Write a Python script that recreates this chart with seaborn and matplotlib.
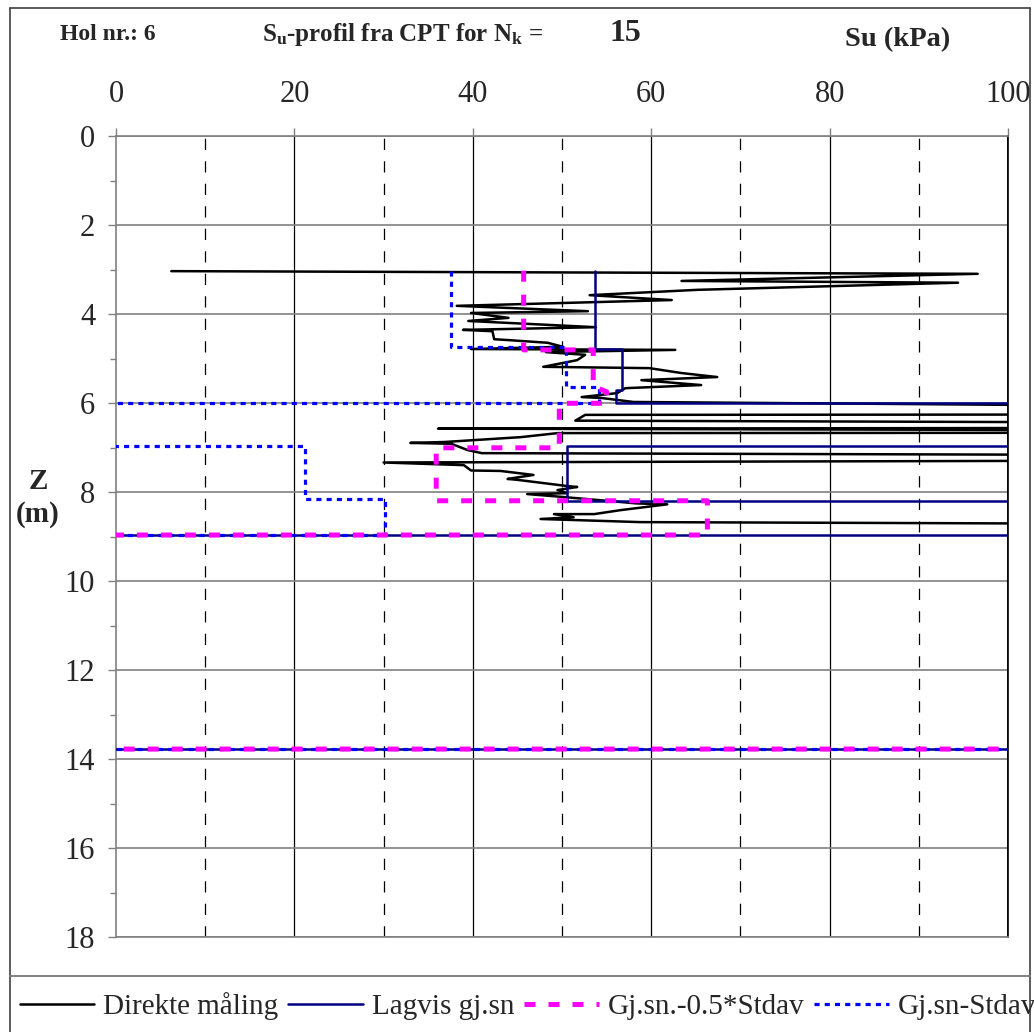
import matplotlib
matplotlib.use("Agg")
import matplotlib.pyplot as plt
from matplotlib.lines import Line2D
import seaborn as sns
import pandas as pd

# ---------------- data ----------------
# Direkte måling (Su in kPa, depth z in m)
su_direct = [6.2, 96.6, 63.4, 94.4, 65.2, 53.1, 62.3, 38.2, 52.9, 39.8, 44.0, 39.5,
             53.8, 38.9, 42.2, 42.4, 44.0, 48.4, 50.1, 39.8, 62.7, 48.2, 52.6, 51.7,
             47.9, 59.8, 63.4, 67.4, 58.9, 65.6, 57.1, 56.2, 52.2, 54.4, 58.0,
             130, 130, 52.6, 51.5, 130, 130, 36.1, 130, 130, 49.5, 45.4, 36.8, 33.0,
             37.6, 39.4, 41.0, 130, 130, 30.0, 39.0, 39.8, 43.1, 46.8, 43.9, 45.0,
             50.6, 51.7, 49.5, 50.6, 46.1, 49.8, 58.4, 61.8, 56.6, 53.6, 49.1, 51.3,
             47.6, 58.8, 130]
z_direct = [3.03, 3.09, 3.25, 3.29, 3.45, 3.57, 3.68, 3.81, 3.93, 3.97, 4.08, 4.15,
            4.29, 4.35, 4.38, 4.56, 4.58, 4.64, 4.73, 4.78, 4.80, 4.85, 4.91, 5.03,
            5.18, 5.21, 5.32, 5.41, 5.48, 5.59, 5.66, 5.77, 5.86, 5.88, 5.97,
            6.08, 6.25, 6.26, 6.39, 6.44, 6.55, 6.57, 6.61, 6.66, 6.67, 6.76, 6.87, 6.89,
            6.91, 7.05, 7.12, 7.17, 7.28, 7.33, 7.39, 7.51, 7.52, 7.61, 7.70, 7.72,
            7.86, 7.88, 7.95, 8.02, 8.04, 8.10, 8.25, 8.27, 8.40, 8.49, 8.49, 8.56,
            8.60, 8.67, 8.72]

# Lagvis gj.sn
su_lag = [53.75, 53.75, 56.7, 56.7, 56.0, 56.0, 200, 200, 50.6, 50.6, 200, 200, -10, -10, 200]
z_lag = [3.02, 4.78, 4.78, 5.69, 5.69, 6.00, 6.00, 6.97, 6.97, 8.19, 8.19, 8.96, 8.96, 13.77, 13.77]

# Gj.sn.-0.5*Stdav
su_half = [45.7, 45.7, 53.5, 53.5, 55.0, 55.0, 49.7, 49.7, 35.9, 35.9, 66.3, 66.3, -10, -10, 200]
z_half = [3.02, 4.80, 4.80, 5.62, 5.74, 6.00, 6.00, 7.00, 7.00, 8.19, 8.19, 8.96, 8.96, 13.77, 13.77]

# Gj.sn-Stdav
su_std = [37.5, 37.5, 50.5, 50.5, 54.1, 54.1, -10, -10, 21.2, 21.2, 30.2, 30.2, -10, -10, 200]
z_std = [3.02, 4.74, 4.74, 5.63, 5.63, 6.00, 6.00, 6.97, 6.97, 8.16, 8.16, 8.96, 8.96, 13.77, 13.77]

x_ticks = [0, 20, 40, 60, 80, 100]
y_ticks = [0, 2, 4, 6, 8, 10, 12, 14, 16, 18]
labels = ["Direkte måling", "Lagvis gj.sn", "Gj.sn.-0.5*Stdav", "Gj.sn-Stdav"]

# ---------------- style ----------------
sns.set_theme(style="white")
plt.rcParams["font.family"] = ["Liberation Serif", "DejaVu Serif"]
plt.rcParams["mathtext.fontset"] = "custom"
plt.rcParams["mathtext.rm"] = "Liberation Serif:bold"
plt.rcParams["mathtext.bf"] = "Liberation Serif:bold"
plt.rcParams["mathtext.it"] = "Liberation Serif:bold"

W, H = 1034, 1032
fig = plt.figure(figsize=(W / 100, H / 100), dpi=100)
fig.patch.set_facecolor("white")
ax = fig.add_axes([116 / W, 1 - 937.3 / H, (1008 - 116) / W, (937.3 - 136.3) / H])

BLACK = "#000000"
NAVY = "#000080"
MAGENTA = "#FF00FF"
BLUE = "#0000FF"

styles = [
    dict(color=BLACK, lw=1.8, ls="-"),
    dict(color=NAVY, lw=1.8, ls="-"),
    dict(color=MAGENTA, lw=3.6, ls=(0, (2.2, 2.6))),
    dict(color=BLUE, lw=2.3, ls=(0, (1.6, 1.6))),
]

df_d = pd.DataFrame({"su": su_direct, "z": z_direct})
df_l = pd.DataFrame({"su": su_lag, "z": z_lag})
df_h = pd.DataFrame({"su": su_half, "z": z_half})
df_s = pd.DataFrame({"su": su_std, "z": z_std})

sns.lineplot(data=df_d, x="su", y="z", sort=False, estimator=None, ax=ax,
             color=BLACK, lw=1.8, zorder=3)
sns.lineplot(data=df_l, x="su", y="z", sort=False, estimator=None, ax=ax,
             color=NAVY, lw=1.8, zorder=4)
sns.lineplot(data=df_s, x="su", y="z", sort=False, estimator=None, ax=ax,
             color=BLUE, lw=2.3, linestyle=(0, (1.6, 1.6)), zorder=5)
sns.lineplot(data=df_h, x="su", y="z", sort=False, estimator=None, ax=ax,
             color=MAGENTA, lw=3.6, linestyle=(0, (2.2, 2.6)), zorder=6)

ax.set_xlim(0, 100)
ax.set_ylim(18, 0)
ax.set_xlabel("")
ax.set_ylabel("")

# grid
for v in [10, 30, 50, 70, 90]:
    ax.axvline(v, color="black", lw=0.9, ls=(0, (9, 9)), zorder=1)
for v in [20, 40, 60, 80]:
    ax.axvline(v, color="black", lw=0.9, zorder=1)
for h in y_ticks:
    ax.axhline(h, color="#808080", lw=1.2, zorder=1)
ax.axvline(100, color="black", lw=1.2, zorder=1)

for side in ["left", "top", "bottom"]:
    ax.spines[side].set_color("#808080")
    ax.spines[side].set_linewidth(1.2)
ax.spines["right"].set_color("black")
ax.spines["right"].set_linewidth(1.2)

# ticks
ax.xaxis.tick_top()
ax.set_xticks(x_ticks)
ax.set_xticklabels([str(t) for t in x_ticks])
ax.set_yticks(y_ticks)
ax.set_yticklabels([str(t) for t in y_ticks])
ax.set_yticks(list(range(1, 18, 2)), minor=True)
ax.tick_params(axis="x", which="major", direction="out", length=6, width=1,
               color="#808080", labelsize=22, pad=14, top=True, bottom=False)
ax.tick_params(axis="y", which="major", direction="out", length=6, width=1,
               color="#808080", labelsize=22, pad=9, left=True)
ax.tick_params(axis="y", which="minor", direction="out", length=4, width=1,
               color="#808080", left=True)

# header texts
fig.text(60 / W, 1 - 35 / H, "Hol nr.: 6", fontsize=17, fontweight="bold",
         ha="left", va="center")
fig.text(262 / W, 1 - 35 / H, r"S$_{\mathbf{u}}$-profil fra CPT for N$_{\mathbf{k}}$ =",
         fontsize=18, fontweight="bold", ha="left", va="center")
fig.text(625 / W, 1 - 33 / H, "15", fontsize=23, fontweight="bold",
         ha="center", va="center")
fig.text(898 / W, 1 - 40 / H, "Su (kPa)", fontsize=20.5, fontweight="bold",
         ha="center", va="center")

# y label
fig.text(38 / W, 1 - 498 / H, "Z\n(m)", fontsize=21, fontweight="bold",
         ha="center", va="center", linespacing=1.25)

# frame lines
fig.add_artist(Line2D([10 / W, 10 / W], [0, 1 - 8 / H], color="#404040", lw=1.2))
fig.add_artist(Line2D([1030 / W, 1030 / W], [0, 1 - 8 / H], color="#404040", lw=1.2))
fig.add_artist(Line2D([10 / W, 1030 / W], [1 - 8 / H, 1 - 8 / H], color="#404040", lw=1.2))
fig.add_artist(Line2D([10 / W, 1030 / W], [1 - 976 / H, 1 - 976 / H], color="#808080", lw=1.4))

# legend
handles = [Line2D([], [], **s) for s in styles]
fig.legend(handles, labels, ncol=4, loc="center left",
           bbox_to_anchor=(20 / W, 1 - 1006 / H), frameon=False,
           fontsize=21, handlelength=2.55, handletextpad=0.3,
           columnspacing=0.35, borderpad=0, borderaxespad=0)

fig.savefig("out.png", dpi=100, facecolor="white")
